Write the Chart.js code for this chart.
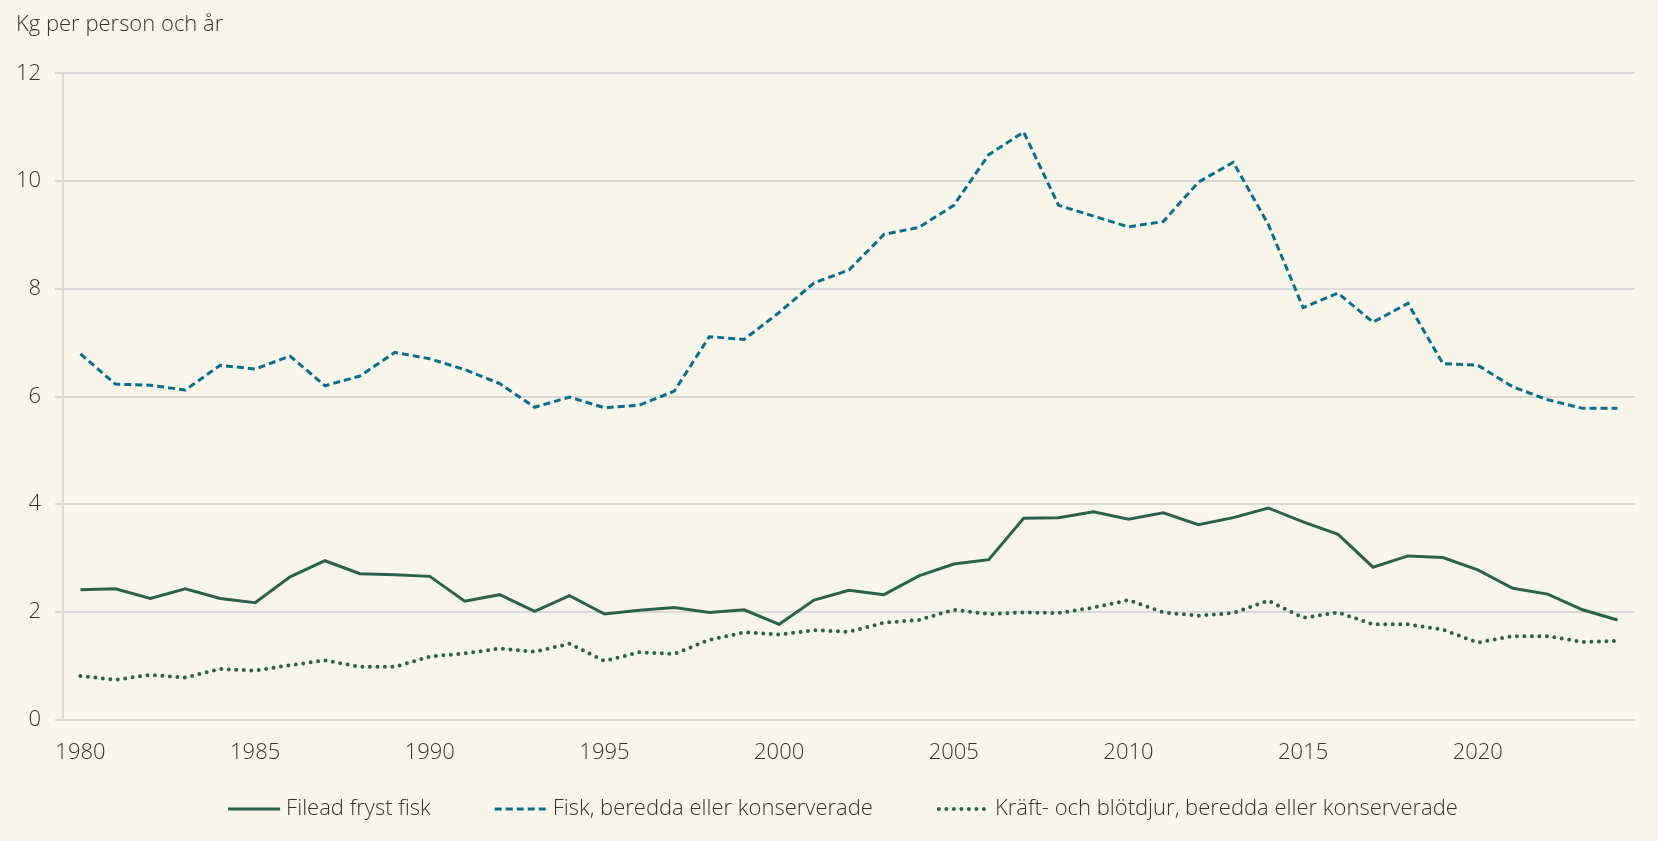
<!DOCTYPE html>
<html lang="sv">
<head>
  <meta charset="UTF-8">
  <title>Kg per person och år</title>
  <script src="https://cdn.jsdelivr.net/npm/chart.js"></script>
  <style>
    html, body { margin: 0; padding: 0; background: #f8f6ea; }
    .chart-container { width: 1658px; height: 841px; position: relative; }
  </style>
</head>
<body>
  <div class="chart-container">
    <canvas id="fiskChart"></canvas>
  </div>

  <script>
    // Data
    const years = [];
    for (let y = 1980; y <= 2024; y++) years.push(String(y));

    const fileadFrystFisk = [
      2.41, 2.43, 2.25, 2.43, 2.25, 2.17, 2.65, 2.95, 2.71, 2.69,
      2.66, 2.20, 2.32, 2.01, 2.30, 1.96, 2.03, 2.08, 1.99, 2.04,
      1.77, 2.22, 2.40, 2.32, 2.67, 2.89, 2.97, 3.74, 3.75, 3.86,
      3.72, 3.84, 3.62, 3.75, 3.93, 3.67, 3.44, 2.83, 3.04, 3.01,
      2.78, 2.44, 2.33, 2.04, 1.85
    ];
    const fiskBeredda = [
      6.79, 6.23, 6.21, 6.12, 6.58, 6.51, 6.75, 6.20, 6.38, 6.82,
      6.70, 6.50, 6.24, 5.80, 5.99, 5.79, 5.84, 6.10, 7.11, 7.06,
      7.56, 8.11, 8.35, 9.01, 9.14, 9.55, 10.49, 10.91, 9.55, 9.35,
      9.15, 9.25, 9.98, 10.35, 9.20, 7.65, 7.92, 7.38, 7.73, 6.61,
      6.58, 6.18, 5.94, 5.78, 5.78
    ];
    const kraftBlotdjur = [
      0.81, 0.74, 0.83, 0.78, 0.94, 0.91, 1.01, 1.10, 0.98, 0.98,
      1.17, 1.23, 1.32, 1.26, 1.41, 1.09, 1.25, 1.22, 1.48, 1.62,
      1.58, 1.66, 1.63, 1.80, 1.85, 2.04, 1.96, 1.99, 1.98, 2.08,
      2.22, 1.99, 1.93, 1.98, 2.21, 1.89, 1.99, 1.77, 1.77, 1.67,
      1.43, 1.55, 1.55, 1.44, 1.46
    ];

    const green = '#2b6149';
    const blue = '#0b6d8b';
    const gridColor = '#d9d9d7';
    const textColor = '#333333';
    const fontFamily = "'Open Sans', sans-serif";
    const textFont = { family: fontFamily, size: 22, weight: '300' };

    // legend drawn under the axis: line sample in each dataset's own style + label
    const lineLegend = {
      id: 'lineLegend',
      afterDraw: function(chart) {
        const c = chart.ctx;
        const sampleW = 52, textGap = 6, itemGap = 64;
        c.save();
        c.font = '300 22px ' + fontFamily;
        const items = chart.data.datasets.map(function(ds) {
          return { ds: ds, w: sampleW + textGap + c.measureText(ds.label).width };
        });
        const total = items.reduce(function(s, it) { return s + it.w; }, 0) + itemGap * (items.length - 1);
        let x = (chart.width - total) / 2 + 14;
        const y = 809;
        items.forEach(function(it) {
          const ds = it.ds;
          c.beginPath();
          c.strokeStyle = ds.borderColor;
          c.lineWidth = ds.borderWidth;
          c.setLineDash(ds.borderDash || []);
          c.lineCap = ds.borderCapStyle || 'butt';
          c.moveTo(x + (c.lineCap === 'round' ? 2 : 0), y);
          c.lineTo(x + sampleW, y);
          c.stroke();
          c.setLineDash([]);
          c.fillStyle = textColor;
          c.textBaseline = 'middle';
          c.textAlign = 'left';
          c.fillText(ds.label, x + sampleW + textGap, y);
          x += it.w + itemGap;
        });
        c.restore();
      }
    };

    const ctx = document.getElementById('fiskChart').getContext('2d');
    const chart = new Chart(ctx, {
      type: 'line',
      data: {
        labels: years,
        datasets: [
          {
            label: 'Filead fryst fisk',
            data: fileadFrystFisk,
            borderColor: green,
            borderWidth: 3,
            pointRadius: 0,
            tension: 0
          },
          {
            label: 'Fisk, beredda eller konserverade',
            data: fiskBeredda,
            borderColor: blue,
            borderWidth: 3,
            borderDash: [7, 4],
            pointRadius: 0,
            tension: 0
          },
          {
            label: 'Kräft- och blötdjur, beredda eller konserverade',
            data: kraftBlotdjur,
            borderColor: green,
            borderWidth: 4,
            borderDash: [0, 7.5],
            borderCapStyle: 'round',
            pointRadius: 0,
            tension: 0
          }
        ]
      },
      options: {
        responsive: true,
        maintainAspectRatio: false,
        animation: false,
        layout: {
          padding: { left: 16, right: 23, top: 0, bottom: 63 }
        },
        plugins: {
          title: {
            display: true,
            text: 'Kg per person och år',
            align: 'start',
            color: textColor,
            font: textFont,
            padding: { top: 12, bottom: 35 }
          },
          legend: { display: false },
          tooltip: { enabled: false }
        },
        scales: {
          x: {
            offset: true,
            grid: { display: false },
            border: { display: false },
            ticks: {
              autoSkip: false,
              maxRotation: 0,
              padding: 12,
              color: textColor,
              font: textFont,
              callback: function(value, index) {
                return Number(years[index]) % 5 === 0 ? years[index] : '';
              }
            }
          },
          y: {
            min: 0,
            max: 12,
            afterFit: function(scale) { scale.width = 47; },
            ticks: {
              stepSize: 2,
              padding: 14,
              color: textColor,
              font: textFont
            },
            grid: {
              color: gridColor,
              lineWidth: 2,
              tickLength: 8
            },
            border: { display: true, color: gridColor, width: 2 }
          }
        }
      },
      plugins: [lineLegend]
    });
  </script>
</body>
</html>
